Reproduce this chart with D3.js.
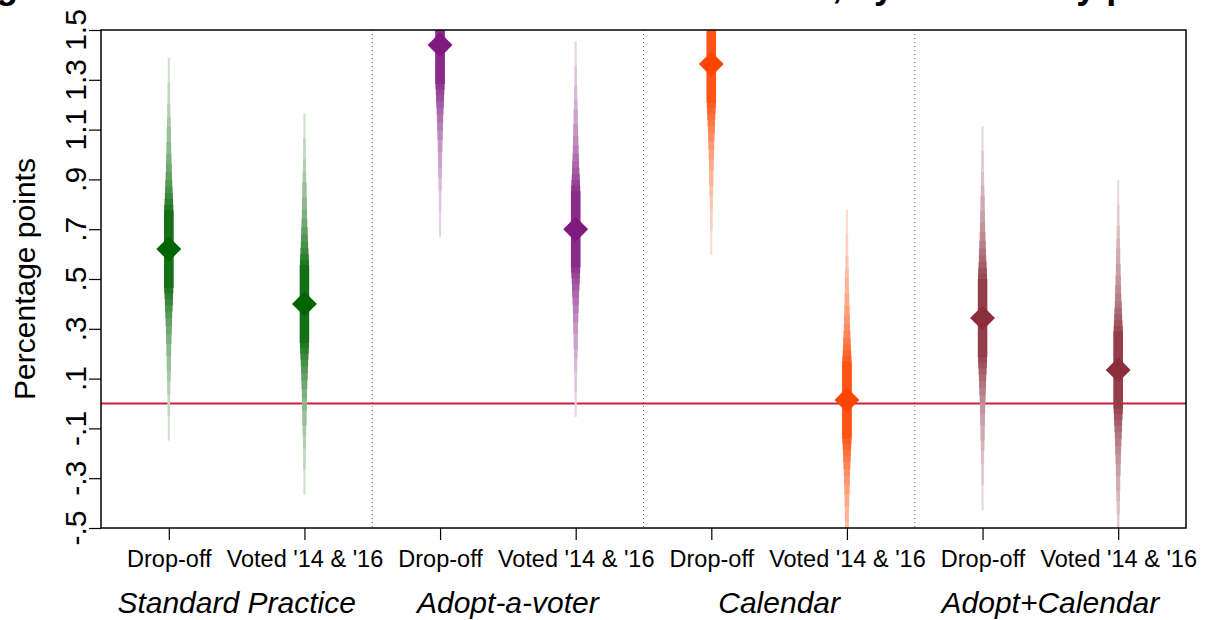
<!DOCTYPE html>
<html>
<head>
<meta charset="utf-8">
<script src="https://cdn.jsdelivr.net/npm/d3@7"></script>
<style>
  html, body { margin: 0; padding: 0; background: #fff; }
  svg { display: block; font-family: "Liberation Sans", Arial, Helvetica, sans-serif; }
</style>
</head>
<body>
<svg id="chart" width="1211" height="620"></svg>
<script>
// ---------------- data ----------------
const titleText = "Figure 3: Estimated effects of treatment on turnout, by arm and by prior voting";
const groups = ["Standard Practice", "Adopt-a-voter", "Calendar", "Adopt+Calendar"];
const subgroups = ["Drop-off", "Voted '14 & '16"];
const groupColors = ["#006400", "#80197f", "#ff4500", "#8b2d3b"];
// point estimates, in subgroup order within each group
const estimates = [0.62, 0.40, 1.44, 0.70, 1.363, 0.014, 0.343, 0.135];
// outer (99%) confidence bounds
const ciLow  = [-0.147, -0.365, 0.669, -0.058, 0.596, -0.750, -0.428, -0.627];
const ciHigh = [ 1.390,  1.165, 2.210,  1.450, 2.130,  0.777,  1.114,  0.897];
// nested confidence levels drawn for each estimate (outer to inner)
const ciLevels = [0.99, 0.975, 0.95, 0.925, 0.9, 0.85, 0.8, 0.75, 0.7, 0.65, 0.6, 0.55, 0.5, 0.45, 0.4];
const yTicks = [-0.5, -0.3, -0.1, 0.1, 0.3, 0.5, 0.7, 0.9, 1.1, 1.3, 1.5];

// ---------------- helpers ----------------
function probit(p) {
  // Acklam's inverse normal CDF approximation
  const a = [-3.969683028665376e+01, 2.209460984245205e+02, -2.759285104469687e+02, 1.383577518672690e+02, -3.066479806614716e+01, 2.506628277459239e+00];
  const b = [-5.447609879822406e+01, 1.615858368580409e+02, -1.556989798598866e+02, 6.680131188771972e+01, -1.328068155288572e+01];
  const c = [-7.784894002430293e-03, -3.223964580411365e-01, -2.400758277161838e+00, -2.549671010422580e+00, 4.374664141464968e+00, 2.938163982698783e+00];
  const d = [7.784695709041462e-03, 3.224671290700398e-01, 2.445134137142996e+00, 3.754408661907416e+00];
  const pl = 0.02425;
  let q, r;
  if (p < pl) { q = Math.sqrt(-2 * Math.log(p)); return (((((c[0]*q+c[1])*q+c[2])*q+c[3])*q+c[4])*q+c[5]) / ((((d[0]*q+d[1])*q+d[2])*q+d[3])*q+1); }
  if (p <= 1 - pl) { q = p - 0.5; r = q*q; return (((((a[0]*r+a[1])*r+a[2])*r+a[3])*r+a[4])*r+a[5])*q / (((((b[0]*r+b[1])*r+b[2])*r+b[3])*r+b[4])*r+1); }
  q = Math.sqrt(-2 * Math.log(1 - p)); return -(((((c[0]*q+c[1])*q+c[2])*q+c[3])*q+c[4])*q+c[5]) / ((((d[0]*q+d[1])*q+d[2])*q+d[3])*q+1);
}
const zOuter = probit(1 - (1 - ciLevels[0]) / 2);

// ---------------- layout ----------------
const svg = d3.select("#chart");
const M = { left: 101, right: 1186, top: 30, bottom: 528 };

const x = d3.scaleLinear().domain([0.5, 8.5]).range([M.left, M.right]);
const y = d3.scaleLinear().domain([-0.5, 1.5]).range([M.bottom, M.top]);

const items = estimates.map((e, i) => ({
  idx: i + 1,
  group: Math.floor(i / 2),
  label: subgroups[i % 2],
  est: e,
  se: (ciHigh[i] - ciLow[i]) / 2 / zOuter
}));

// title (sits above the visible area; only descenders show, as in the source)
svg.append("text")
  .attr("x", -36).attr("y", -2)
  .attr("text-anchor", "start")
  .attr("font-size", 36).attr("font-weight", "bold")
  .text(titleText);

svg.append("defs").append("clipPath").attr("id", "plotclip")
  .append("rect")
  .attr("x", M.left).attr("y", M.top)
  .attr("width", M.right - M.left).attr("height", M.bottom - M.top);

// zero line
svg.append("line")
  .attr("x1", M.left).attr("x2", M.right)
  .attr("y1", y(0)).attr("y2", y(0))
  .attr("stroke", "#c8203c").attr("stroke-width", 2);

// group separators
svg.append("g").selectAll("line")
  .data([2.5, 4.5, 6.5])
  .join("line")
  .attr("x1", d => x(d)).attr("x2", d => x(d))
  .attr("y1", M.top).attr("y2", M.bottom)
  .attr("stroke", "#666").attr("stroke-width", 1)
  .attr("stroke-dasharray", "1,3");

// estimates with nested CIs
const plot = svg.append("g").attr("clip-path", "url(#plotclip)");
const N = ciLevels.length;
items.forEach(it => {
  const col = groupColors[it.group];
  const g = plot.append("g");
  ciLevels.forEach((lvl, k) => {
    const z = probit(1 - (1 - lvl) / 2);
    const lo = it.est - z * it.se, hi = it.est + z * it.se;
    const w = 2 + 7.5 * k / (N - 1);
    g.append("rect")
      .attr("x", x(it.idx) - w / 2)
      .attr("width", w)
      .attr("y", y(hi))
      .attr("height", y(lo) - y(hi))
      .attr("fill", d3.interpolateRgb("#ffffff", col)(0.2 + 0.72 * k / (N - 1)));
  });
  g.append("path")
    .attr("d", d3.symbol(d3.symbolSquare, 310)())
    .attr("transform", `translate(${x(it.idx)},${y(it.est)}) rotate(45)`)
    .attr("fill", col);
});

// frame
svg.append("rect")
  .attr("x", M.left).attr("y", M.top)
  .attr("width", M.right - M.left).attr("height", M.bottom - M.top)
  .attr("fill", "none").attr("stroke", "#000").attr("stroke-width", 1.5);

// y axis
const fmt = v => (v < 0 ? "-" : "") + Math.abs(v).toFixed(1).replace(/^0\./, ".");
const yAxis = svg.append("g")
  .attr("transform", `translate(${M.left},0)`)
  .call(d3.axisLeft(y).tickValues(yTicks).tickSize(12).tickFormat(""));
yAxis.select(".domain").remove();
yAxis.selectAll(".tick line").attr("stroke", "#000").attr("stroke-width", 1.2);
svg.append("g").selectAll("text")
  .data(yTicks)
  .join("text")
  .attr("transform", d => `translate(86,${y(d)}) rotate(-90)`)
  .attr("text-anchor", "middle")
  .attr("font-size", 30)
  .text(fmt);

svg.append("text")
  .attr("transform", `translate(35,${(M.top + M.bottom) / 2}) rotate(-90)`)
  .attr("text-anchor", "middle")
  .attr("font-size", 30)
  .text("Percentage points");

// x axis
const xAxis = svg.append("g")
  .attr("transform", `translate(0,${M.bottom})`)
  .call(d3.axisBottom(x).tickValues(items.map(d => d.idx)).tickSize(12)
    .tickFormat((d, i) => items[i].label));
xAxis.select(".domain").remove();
xAxis.selectAll(".tick line").attr("stroke", "#000").attr("stroke-width", 1.2);
xAxis.selectAll(".tick text")
  .attr("font-size", 23.5).attr("fill", "#000")
  .attr("font-family", "Liberation Sans, Arial, sans-serif")
  .attr("y", 22).attr("dy", "0.71em");

svg.append("g").selectAll("text")
  .data(groups)
  .join("text")
  .attr("x", (d, i) => x(2 * i + 1.5))
  .attr("y", 613)
  .attr("text-anchor", "middle")
  .attr("font-size", 30).attr("font-style", "italic")
  .text(d => d);
</script>
</body>
</html>
